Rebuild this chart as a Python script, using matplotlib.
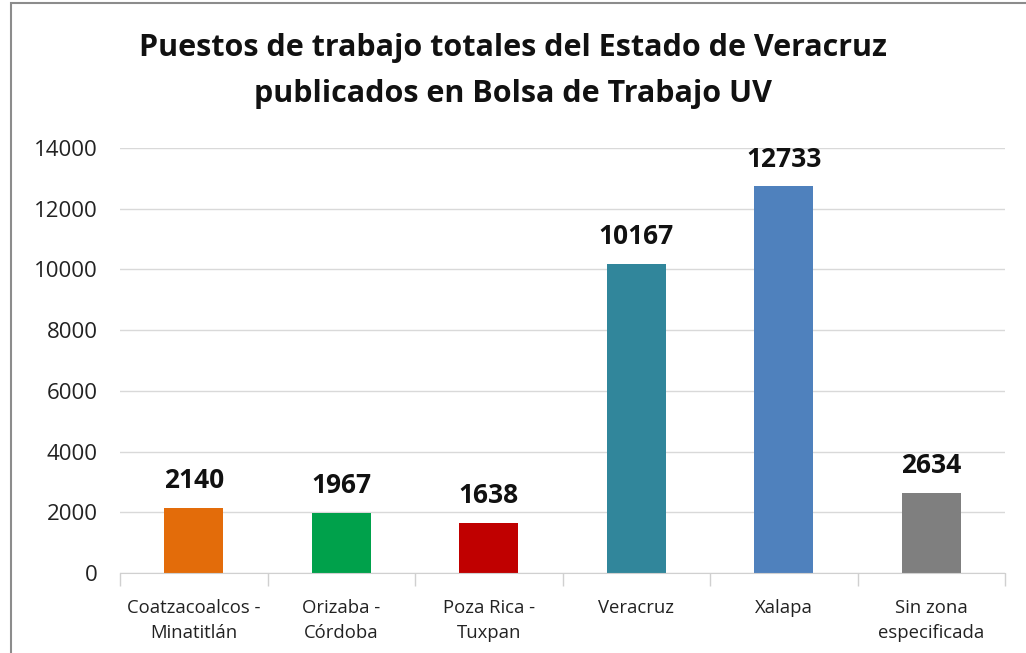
import matplotlib
matplotlib.use("Agg")
import matplotlib.pyplot as plt
from matplotlib.patches import Rectangle
import numpy as np

categories = ["Coatzacoalcos -\nMinatitlán", "Orizaba -\nCórdoba", "Poza Rica -\nTuxpan",
              "Veracruz", "Xalapa", "Sin zona\nespecificada"]
values = [2140, 1967, 1638, 10167, 12733, 2634]
colors = ["#E36C0A", "#00A14B", "#C00000", "#31869B", "#4F81BD", "#7F7F7F"]
yticks = [0, 2000, 4000, 6000, 8000, 10000, 12000, 14000]
title = "Puestos de trabajo totales del Estado de Veracruz\npublicados en Bolsa de Trabajo UV"

fam = ["Open Sans", "DejaVu Sans"]
plt.rcParams['font.family'] = fam

W, H = 1026, 653
fig = plt.figure(figsize=(W/100, H/100), dpi=100)
ax = fig.add_axes([120/W, 1-573/H, (1005-120)/W, (573-148)/H])

x = np.arange(len(categories))
ax.bar(x, values, width=0.4, color=colors, zorder=3)
ax.set_xlim(-0.5, len(categories)-0.5)
ax.set_ylim(0, 14000)
ax.set_yticks(yticks)
ax.set_yticklabels([str(v) for v in yticks], fontsize=16, color="#222222")
ax.set_xticks(x)
ax.set_xticklabels(categories, fontsize=13.3, color="#222222", linespacing=1.45)
ax.tick_params(axis='y', length=0, pad=16)
ax.tick_params(axis='x', length=0, pad=19)
# minor ticks at category boundaries
ax.set_xticks(np.arange(-0.5, len(categories), 1), minor=True)
ax.tick_params(axis='x', which='minor', length=9, color="#D0D0D0", width=1)
ax.yaxis.grid(True, color="#D9D9D9", linewidth=1, zorder=0)
for s in ["top", "right", "left"]:
    ax.spines[s].set_visible(False)
ax.spines["bottom"].set_color("#D0D0D0")
ax.spines["bottom"].set_zorder(4)

for xi, v in zip(x, values):
    ax.annotate(str(v), (xi, v), xytext=(0, 10), textcoords="offset points",
                ha="center", va="bottom", fontsize=19, fontweight="bold", color="#111111")

fig.text(0.5, 1-71/H, title, ha="center", va="center", fontsize=22,
         fontweight="bold", color="#111111", linespacing=1.68)

fig.patches.append(Rectangle((11/W, -0.1), 1.2, 1-3/H+0.1, transform=fig.transFigure,
                             fill=False, edgecolor="#8C8C8C", linewidth=1.5))

fig.savefig("out.png", dpi=100)
